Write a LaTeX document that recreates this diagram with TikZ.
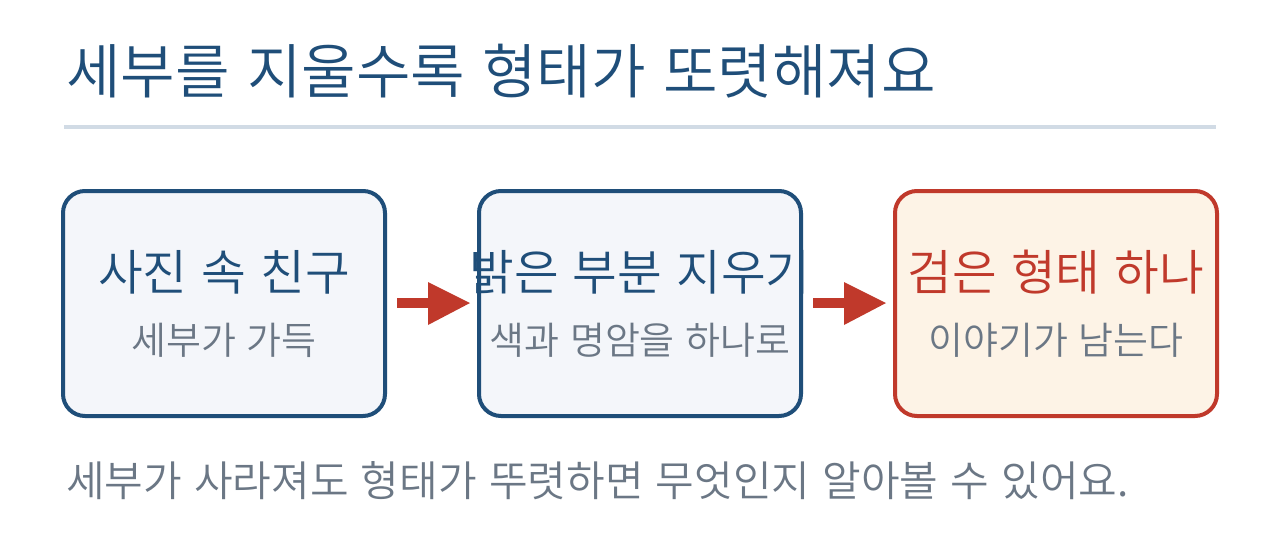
\documentclass[tikz,border=0pt]{standalone}
\usepackage{fontspec}
\setmainfont{Noto Sans CJK KR}[UprightFont={* DemiLight},WordSpace=1.3]
\definecolor{navy}{HTML}{1F4E79}
\definecolor{rust}{HTML}{C0392B}
\definecolor{slate}{HTML}{6B7785}
\definecolor{rulec}{HTML}{D1DBE5}
\definecolor{bluefill}{HTML}{F4F6FA}
\definecolor{warmfill}{HTML}{FDF3E6}
\begin{document}
\begin{tikzpicture}[x=1pt,y=-1pt,
  card/.style={draw=navy, line width=4pt, fill=bluefill, rounded corners=22pt},
  hotcard/.style={draw=rust, line width=4pt, fill=warmfill, rounded corners=22pt},
  head/.style={font=\fontsize{48.6}{56}\selectfont, text=navy, anchor=base, inner sep=0pt},
  sub/.style={font=\fontsize{38}{44}\selectfont, text=slate, anchor=base, inner sep=0pt},
  flow/.style={rust, line width=10pt},
  tip/.style={fill=rust, draw=none}]
\useasboundingbox (0,0) rectangle (1280,544);
\fill[white] (0,0) rectangle (1280,544);
\node[anchor=base west, inner sep=0pt, text=navy, font=\fontsize{59.3}{70}\selectfont] (title) at (66,93) {세부를 지울수록 형태가 또렷해져요};
\draw[rulec, line width=4pt] (64,127) coordinate (r1) -- (1216,127) coordinate (r2);
\draw[card] (63,191) rectangle (385,416);
\draw[card] (479,191) rectangle (801,416);
\draw[hotcard] (895,191) rectangle (1217,416);
\node[head] (t1) at (224,290) {사진 속 친구};
\node[sub] (s1) at (224,354) {세부가 가득};
\node[head] (t2) at (640,290) {밝은 부분 지우기};
\node[sub] (s2) at (640,354) {색과 명암을 하나로};
\node[head, text=rust] (t3) at (1056,290) {검은 형태 하나};
\node[sub] (s3) at (1056,354) {이야기가 남는다};
\coordinate (a1s) at (397,303); \coordinate (a1e) at (430,303);
\draw[flow] (a1s) -- (a1e);
\fill[tip] (428,282) -- (470,303) -- (428,325) -- cycle;
\coordinate (a2s) at (813,303); \coordinate (a2e) at (846,303);
\draw[flow] (a2s) -- (a2e);
\fill[tip] (844,282) -- (886,303) -- (844,325) -- cycle;
\node[anchor=base west, inner sep=0pt, text=slate, font=\fontsize{42}{50}\selectfont] (foot) at (66,496) {세부가 사라져도 형태가 뚜렷하면 무엇인지 알아볼 수 있어요.};
\end{tikzpicture}
\end{document}
